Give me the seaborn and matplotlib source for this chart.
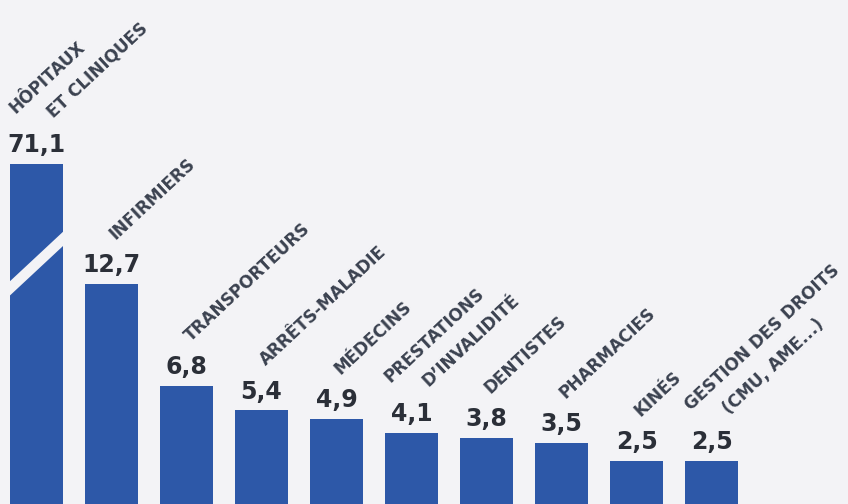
import numpy as np
import pandas as pd
import matplotlib
matplotlib.use("Agg")
import matplotlib.pyplot as plt
import seaborn as sns

# ---- data ----
categories = ["HÔPITAUX\nET CLINIQUES", "INFIRMIERS", "TRANSPORTEURS", "ARRÊTS-MALADIE",
              "MÉDECINS", "PRESTATIONS\nD’INVALIDITÉ", "DENTISTES", "PHARMACIES",
              "KINÉS", "GESTION DES DROITS\n(CMU, AME...)"]
values = [71.1, 12.7, 6.8, 5.4, 4.9, 4.1, 3.8, 3.5, 2.5, 2.5]
value_labels = ["71,1", "12,7", "6,8", "5,4", "4,9", "4,1", "3,8", "3,5", "2,5", "2,5"]

# ---- style ----
BG = "#f3f3f6"
BAR = "#2d58a8"
VAL_COLOR = "#2b2f38"
LAB_COLOR = "#3b4250"
AXIS_BREAK = 19.6   # bars taller than this are drawn truncated with a break mark

sns.set_theme(style="white")
plt.rcParams["font.family"] = ["DejaVu Sans"]

fig = plt.figure(figsize=(8.48, 5.04), dpi=100, facecolor=BG)
ax = fig.add_axes([0, 0, 1, 1])
ax.set_facecolor(BG)

display = np.minimum(values, AXIS_BREAK)
df = pd.DataFrame({"cat": categories, "val": display})
sns.barplot(data=df, x="cat", y="val", order=categories, color=BAR,
            saturation=1, width=0.7, ax=ax, linewidth=0)

ax.set_xlim(-0.487, 10.82)
ax.set_ylim(0, 29.05)
ax.axis("off")

# break mark on truncated bars
for i, (v, h) in enumerate(zip(values, display)):
    if v > h:
        p = ax.patches[i]
        x0, w = p.get_x(), p.get_width()
        xc = x0 + w / 2
        yc = 0.707 * h
        slope = 4.03
        pad = 0.08
        xs = np.array([x0 - pad, x0 + w + pad])
        ax.plot(xs, yc + slope * (xs - xc), color=BG, lw=7.5,
                solid_capstyle="butt", zorder=5)

# value labels
for i, (h, lab) in enumerate(zip(display, value_labels)):
    ax.annotate(lab, xy=(i, h), xytext=(0, 8.5), textcoords="offset points",
                ha="center", va="baseline", fontsize=17, fontweight="bold",
                color=VAL_COLOR)

# category labels, rotated
px = 0.72  # pixels -> points
for i, (h, lab) in enumerate(zip(display, categories)):
    lines = lab.split("\n")
    n = len(lines)
    sx, sy = 4 - 25 * (n - 1), 44 + 6 * (n - 1)
    for k, line in enumerate(lines):
        ox, oy = sx + 38 * k, sy - 4 * k
        ax.annotate(line, xy=(i, h), xytext=(ox * px, oy * px),
                    textcoords="offset points", rotation=43,
                    rotation_mode="anchor", ha="left", va="baseline",
                    fontsize=12.2, fontweight="bold", color=LAB_COLOR)

fig.savefig("out.png", dpi=100, facecolor=BG)
